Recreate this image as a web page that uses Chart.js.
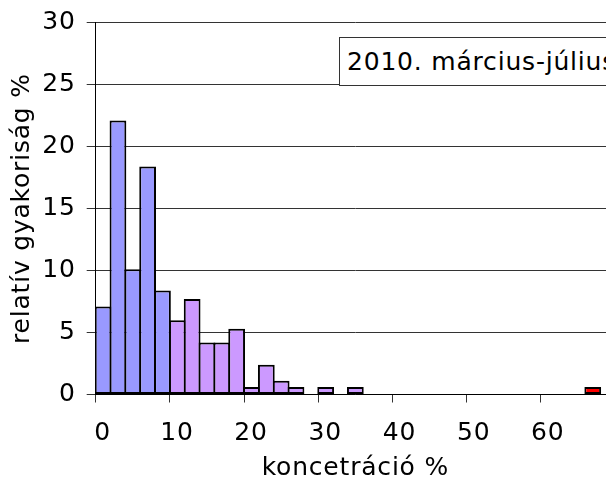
<!DOCTYPE html>
<html>
<head>
<meta charset="utf-8">
<script src="https://cdn.jsdelivr.net/npm/chart.js@4/dist/chart.umd.min.js"></script>
<style>
  html, body { margin: 0; padding: 0; background: #fff; overflow: hidden; }
  #wrap { position: relative; width: 606px; height: 479px; overflow: hidden; }
  #c { position: absolute; left: 0; top: 0; }
  #note {
    position: absolute; left: 339px; top: 37px; width: 320px; height: 47px;
    border: 1px solid #333; background: #fff; box-sizing: content-box;
    font-family: "DejaVu Sans", Verdana, sans-serif; font-size: 25px; letter-spacing: 0.8px;
    line-height: 47px; padding-left: 7px; color: #000; white-space: nowrap;
  }
</style>
</head>
<body>
<div id="wrap">
  <canvas id="c" width="640" height="490"></canvas>
  <div id="note">2010. március-július</div>
</div>
<script>
// Histogram bins (bin centres, bin width 2 %) and relative frequencies (%)
const blueCenters   = [1, 3, 5, 7, 9];
const blueValues    = [7.1, 22.1, 10.1, 18.4, 8.4];
const purpleCenters = [11, 13, 15, 17, 19, 21, 23, 25, 27, 31, 35];
const purpleValues  = [6.0, 7.7, 4.2, 4.2, 5.3, 0.6, 2.4, 1.1, 0.6, 0.6, 0.6];
const redCenters    = [67];
const redValues     = [0.6];
const xTickValues   = [0, 10, 20, 30, 40, 50, 60];
const yTickValues   = [0, 5, 10, 15, 20, 25, 30];
const xTitle = 'koncetráció %';
const yTitle = 'relatív gyakoriság %';

const toPoints = (xs, ys) => xs.map((x, i) => ({ x: x, y: ys[i] }));
const FONT = '"DejaVu Sans", Verdana, sans-serif';

const barStyle = {
  borderColor: '#000',
  borderWidth: 2,
  borderSkipped: false,
  barPercentage: 1.13,
  categoryPercentage: 1,
  grouped: false
};

const spacingPlugin = {
  id: 'spacing',
  beforeDraw(chart) { chart.ctx.letterSpacing = '0.8px'; }
};

new Chart(document.getElementById('c'), {
  type: 'bar',
  plugins: [spacingPlugin],
  data: {
    datasets: [
      Object.assign({ label: 'a', data: toPoints(blueCenters, blueValues), backgroundColor: '#9999FF' }, barStyle),
      Object.assign({ label: 'b', data: toPoints(purpleCenters, purpleValues), backgroundColor: '#CC99FF' }, barStyle),
      Object.assign({ label: 'c', data: toPoints(redCenters, redValues), backgroundColor: '#FF0000' }, barStyle)
    ]
  },
  options: {
    responsive: false,
    animation: false,
    devicePixelRatio: 1,
    layout: { padding: { left: 0, top: 22.7, right: 25, bottom: 0 } },
    plugins: { legend: { display: false }, tooltip: { enabled: false }, title: { display: false } },
    scales: {
      x: {
        type: 'linear',
        min: 0,
        max: 70,
        offset: false,
        afterFit: (s) => { s.height = 95.5; s.paddingLeft = 0; s.paddingRight = 0; },
        afterBuildTicks: (s) => { s.ticks = xTickValues.map(v => ({ value: v })); },
        ticks: {
          stepSize: 10,
          maxRotation: 0,
          autoSkip: false,
          labelOffset: 7,
          padding: 16,
          color: '#000',
          font: { family: FONT, size: 25 }
        },
        grid: { offset: false, drawOnChartArea: false, drawTicks: true, tickLength: 8, color: '#333' },
        border: { color: '#000', width: 1 },
        title: {
          display: true, text: xTitle, color: '#000',
          font: { family: FONT, size: 25 },
          padding: { top: 0, bottom: 7 }
        }
      },
      y: {
        min: 0,
        max: 30,
        afterFit: (s) => { s.width = 95.7; s.paddingTop = 0; s.paddingBottom = 0; },
        afterBuildTicks: (s) => { s.ticks = yTickValues.map(v => ({ value: v })); },
        ticks: {
          stepSize: 5,
          padding: 11,
          color: '#000',
          font: { family: FONT, size: 25 }
        },
        grid: { color: '#333', tickLength: 9, drawTicks: true },
        border: { color: '#000', width: 1 },
        title: {
          display: true, text: yTitle, color: '#000',
          font: { family: FONT, size: 25 },
          padding: { top: 7, bottom: 0 }
        }
      }
    }
  }
});
</script>
</body>
</html>
